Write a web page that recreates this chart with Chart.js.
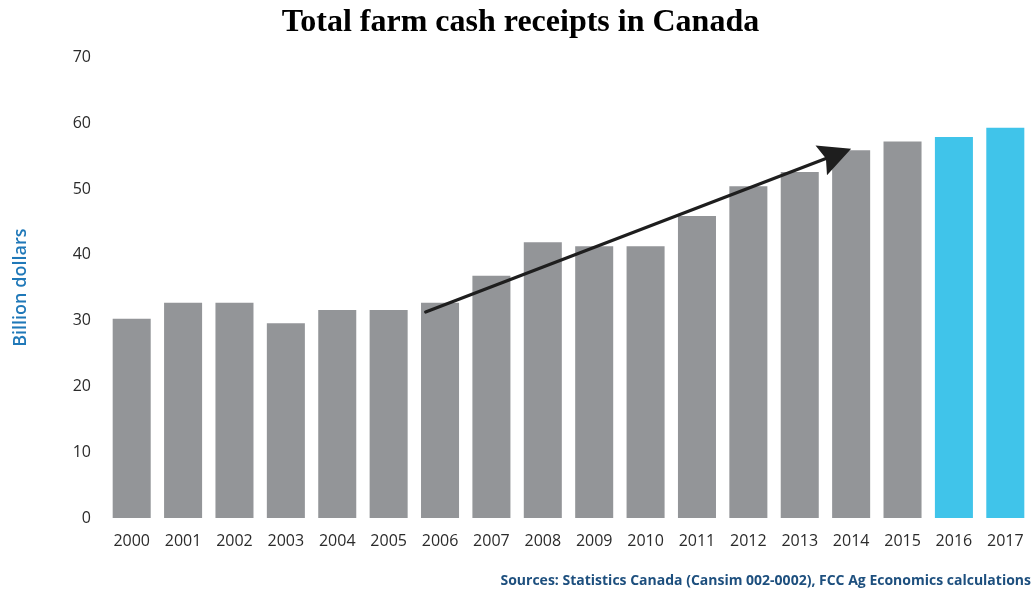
<!DOCTYPE html>
<html>
<head>
<meta charset="utf-8">
<title>Total farm cash receipts in Canada</title>
<script src="https://cdn.jsdelivr.net/npm/chart.js@4.4.1/dist/chart.umd.min.js"></script>
<style>
  html, body { margin: 0; padding: 0; background: #ffffff; }
  #wrap { width: 1031px; height: 592px; position: relative; }
</style>
</head>
<body>
<div id="wrap"><canvas id="receipts"></canvas></div>
<script>
// Years shown along the bottom axis
const years = ['2000', '2001', '2002', '2003', '2004', '2005', '2006', '2007', '2008',
  '2009', '2010', '2011', '2012', '2013', '2014', '2015', '2016', '2017'];

// Total farm cash receipts, billion dollars
const receipts = [30.3, 32.7, 32.7, 29.6, 31.6, 31.6, 32.7, 36.8, 41.9,
  41.3, 41.3, 45.9, 50.4, 52.6, 55.9, 57.2, 57.9, 59.3];

// Years that are forecasts (drawn in blue)
const forecastYears = ['2016', '2017'];

// Value axis ticks
const yTicks = [0, 10, 20, 30, 40, 50, 60, 70];

// Trend arrow: start and tip, as (category index, billion dollars)
const trendArrow = [
  { x: 5.72, y: 31.3 },
  { x: 14.0, y: 56.1 }
];

const GREY = '#939598';
const BLUE = '#40c4ea';
const barColors = years.map(y => forecastYears.includes(y) ? BLUE : GREY);

// Draws the trend arrow on top of the bars
const trendArrowPlugin = {
  id: 'trendArrow',
  afterDatasetsDraw(chart) {
    const { ctx, scales: { x, y } } = chart;
    const x0 = x.getPixelForValue(trendArrow[0].x);
    const y0 = y.getPixelForValue(trendArrow[0].y);
    const x1 = x.getPixelForValue(trendArrow[1].x);
    const y1 = y.getPixelForValue(trendArrow[1].y);
    const ang = Math.atan2(y1 - y0, x1 - x0);
    const headLen = 32, headHalf = 16, notch = 5;
    const ux = Math.cos(ang), uy = Math.sin(ang);
    const px = -uy, py = ux;
    const bx = x1 - ux * headLen, by = y1 - uy * headLen;
    ctx.save();
    ctx.strokeStyle = '#1e1e1e';
    ctx.fillStyle = '#1e1e1e';
    ctx.lineWidth = 3.2;
    ctx.lineCap = 'round';
    ctx.beginPath();
    ctx.moveTo(x0, y0);
    ctx.lineTo(bx + ux * notch, by + uy * notch);
    ctx.stroke();
    ctx.beginPath();
    ctx.moveTo(x1, y1);
    ctx.lineTo(bx + px * headHalf, by + py * headHalf);
    ctx.lineTo(bx + ux * notch, by + uy * notch);
    ctx.lineTo(bx - px * headHalf, by - py * headHalf);
    ctx.closePath();
    ctx.fill();
    ctx.restore();
  }
};

new Chart(document.getElementById('receipts'), {
  type: 'bar',
  data: {
    labels: years,
    datasets: [{
      label: 'Total farm cash receipts',
      data: receipts,
      backgroundColor: barColors,
      borderWidth: 0,
      categoryPercentage: 1.0,
      barPercentage: 0.74
    }]
  },
  options: {
    responsive: true,
    maintainAspectRatio: false,
    animation: false,
    layout: { padding: { left: 10, right: 0, top: 0, bottom: 0 } },
    plugins: {
      legend: { display: false },
      tooltip: { enabled: false },
      title: {
        display: true,
        text: 'Total farm cash receipts in Canada',
        color: '#000000',
        font: { family: '"Liberation Serif", "Times New Roman", serif', size: 32, weight: 'bold', lineHeight: 1.2 },
        padding: { top: 4, bottom: 15 }
      },
      subtitle: {
        display: true,
        position: 'bottom',
        align: 'end',
        text: 'Sources: Statistics Canada (Cansim 002-0002), FCC Ag Economics calculations',
        color: '#1d4f7e',
        font: { family: '"Open Sans", sans-serif', size: 14, weight: 'bold', lineHeight: 1.2 },
        padding: { top: 7, bottom: 3 }
      }
    },
    scales: {
      x: {
        grid: { display: false, drawTicks: false },
        border: { display: false },
        ticks: {
          color: '#2b2b2b',
          font: { family: '"Open Sans", sans-serif', size: 16 },
          padding: 14,
          maxRotation: 0,
          autoSkip: false
        },
        afterFit(scale) {
          // the last year label fits inside its own slot, so no extra room is needed
          scale.paddingRight = 0;
        }
      },
      y: {
        min: 0,
        max: 70,
        afterBuildTicks(scale) {
          scale.ticks = yTicks.map(v => ({ value: v }));
        },
        afterFit(scale) {
          scale.width = 96;
        },
        grid: { display: false, drawTicks: false },
        border: { display: false },
        ticks: {
          color: '#2b2b2b',
          font: { family: '"Open Sans", sans-serif', size: 16 },
          padding: 15
        },
        title: {
          display: true,
          text: 'Billion dollars',
          color: '#1f78b8',
          font: { family: '"Open Sans", sans-serif', size: 18, weight: '600', lineHeight: 1.2 },
          padding: { top: 0, bottom: 0 }
        }
      }
    }
  },
  plugins: [trendArrowPlugin]
});
</script>
</body>
</html>
